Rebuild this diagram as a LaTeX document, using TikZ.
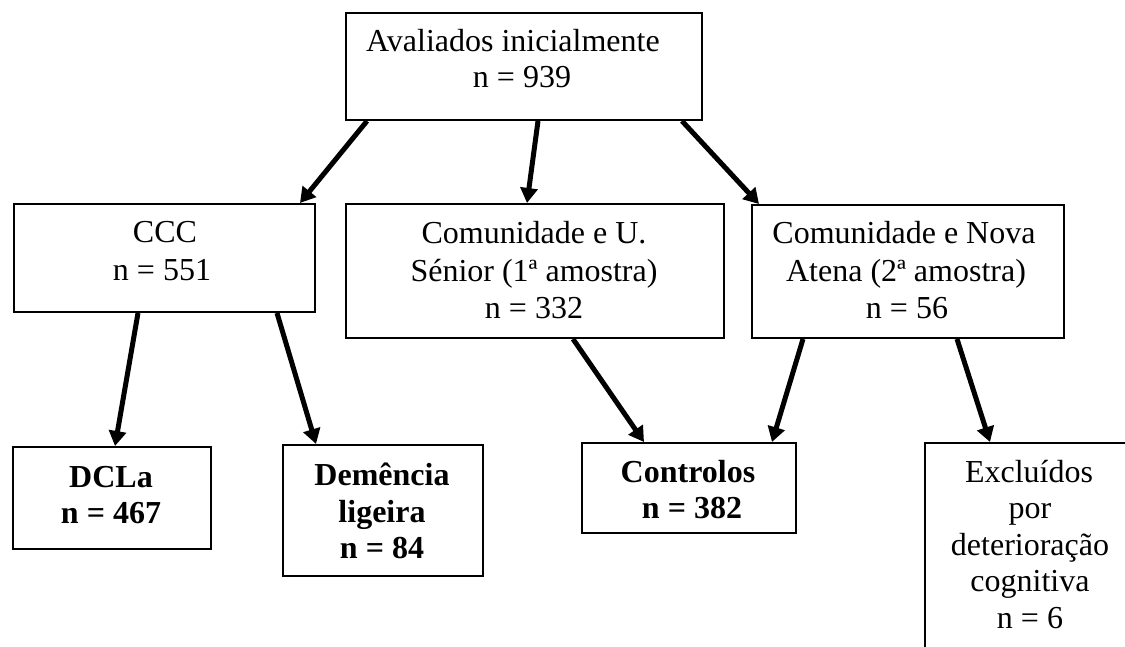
\documentclass[tikz,border=0pt]{standalone}
\usepackage{fontspec}
\setmainfont{Liberation Serif}
\usetikzlibrary{arrows.meta}
\begin{document}
\begin{tikzpicture}[x=1pt,y=-1pt,
  box/.style={draw, line width=2pt, inner sep=0pt, anchor=north west},
  txt/.style={inner sep=0pt, anchor=base, font=\fontsize{32}{37}\selectfont},
  btxt/.style={inner sep=0pt, anchor=base, font=\fontsize{32}{37}\selectfont\bfseries},
  arr/.style={line width=5pt, -{Triangle[length=15pt,width=17pt]}}]
\useasboundingbox (0,0) rectangle (1125,647);
\clip (0,0) rectangle (1125,647);
% boxes
\node[box, minimum width=356pt, minimum height=107pt] (top) at (345,12) {};
\node[box, minimum width=301pt, minimum height=108pt] (ccc) at (13,203) {};
\node[box, minimum width=378pt, minimum height=134pt] (mid) at (345,203) {};
\node[box, minimum width=312pt, minimum height=133pt] (rgt) at (751,204) {};
\node[box, minimum width=198pt, minimum height=102pt] (dcla) at (12,446) {};
\node[box, minimum width=200pt, minimum height=131pt] (dem) at (282,444) {};
\node[box, minimum width=214pt, minimum height=90pt] (ctl) at (581,442) {};
\node[box, minimum width=212pt, minimum height=230pt] (exc) at (924,442) {};
% texts
\node[txt] (topA) at (513,52) {Avaliados inicialmente};
\node[txt] (topB) at (522,88) {n = 939};
\node[txt] (cccA) at (165,243) {CCC};
\node[txt] (cccB) at (162,280) {n = 551};
\node[txt] (midA) at (534,244) {Comunidade e U.};
\node[txt] (midB) at (534,281) {Sénior (1ª amostra)};
\node[txt] (midC) at (534,318) {n = 332};
\node[txt] (rgtA) at (904,244) {Comunidade e Nova};
\node[txt] (rgtB) at (906,281) {Atena (2ª amostra)};
\node[txt] (rgtC) at (907,318) {n = 56};
\node[btxt] (dclaA) at (111,487) {DCLa};
\node[btxt] (dclaB) at (111,523) {n = 467};
\node[btxt] (demA) at (382,485) {Demência};
\node[btxt] (demB) at (382,522) {ligeira};
\node[btxt] (demC) at (382,558) {n = 84};
\node[btxt] (ctlA) at (688,482) {Controlos};
\node[btxt] (ctlB) at (692,518) {n = 382};
\node[txt] (excA) at (1029,482) {Excluídos};
\node[txt] (excB) at (1030,518) {por};
\node[txt] (excC) at (1030,555) {deterioração};
\node[txt] (excD) at (1030,591) {cognitiva};
\node[txt] (excE) at (1030,628) {n = 6};
% arrows
\draw[arr] (367,0 |- top.south) -- (300,0 |- ccc.north);
\draw[arr] (538,0 |- top.south) -- (527,0 |- mid.north);
\draw[arr] (682,0 |- top.south) -- (759,0 |- rgt.north);
\draw[arr] (138,0 |- ccc.south) -- (115,0 |- dcla.north);
\draw[arr] (277,0 |- ccc.south) -- (316,0 |- dem.north);
\draw[arr] (573,0 |- mid.south) -- (644,0 |- ctl.north);
\draw[arr] (803,0 |- rgt.south) -- (772,0 |- ctl.north);
\draw[arr] (957,0 |- rgt.south) -- (990,0 |- exc.north);
\end{tikzpicture}
\end{document}
